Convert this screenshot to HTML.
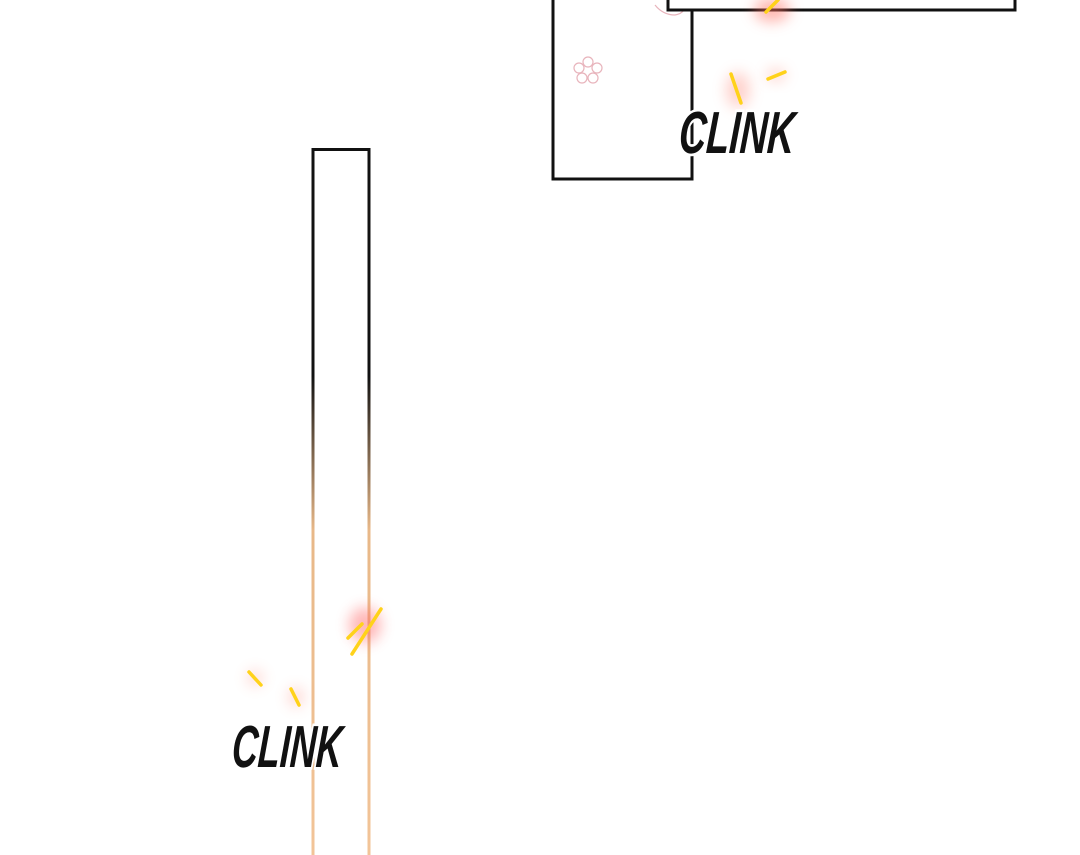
<!DOCTYPE html>
<html><head><style>html,body{margin:0;padding:0;background:#fff;}svg{display:block}</style></head>
<body>
<svg width="1080" height="855" viewBox="0 0 1080 855" xmlns="http://www.w3.org/2000/svg">
<defs>
<linearGradient id="g" x1="0" y1="0" x2="0" y2="855" gradientUnits="userSpaceOnUse">
<stop offset="0.44" stop-color="#111"/>
<stop offset="0.62" stop-color="#e8b888"/>
<stop offset="1" stop-color="#f2c498"/>
</linearGradient>
<filter id="b" x="-1" y="-1" width="3" height="3"><feGaussianBlur stdDeviation="7"/></filter>
</defs>
<rect x="0" y="0" width="1080" height="855" fill="#fff"/>
<rect x="553" y="-10" width="139" height="189" fill="#fff" stroke="#111" stroke-width="3"/>
<g fill="none" stroke="#e8b4bc" stroke-width="1.2">
<circle cx="588" cy="62" r="5"/><circle cx="597" cy="68" r="5"/><circle cx="593" cy="78" r="5"/><circle cx="582" cy="78" r="5"/><circle cx="579" cy="68" r="5"/>
<path d="M655 5 q8 10 20 10 q12 -2 10 -14"/>
</g>
<rect x="668" y="-10" width="347" height="20" fill="#fff" stroke="#111" stroke-width="3"/>
<ellipse cx="772" cy="10" rx="18" ry="12" fill="#ff7060" opacity="0.5" filter="url(#b)"/>
<ellipse cx="738" cy="90" rx="12" ry="18" fill="#ff8070" opacity="0.35" filter="url(#b)"/>
<ellipse cx="776" cy="75" rx="10" ry="6" fill="#ff8070" opacity="0.35" filter="url(#b)"/>
<g stroke="#ffd21a" stroke-width="3.5" stroke-linecap="round">
<line x1="766" y1="12" x2="778" y2="0"/>
<line x1="731" y1="74" x2="741" y2="103"/>
<line x1="768" y1="79" x2="785" y2="72"/>
</g>
<line x1="313" y1="149.5" x2="369" y2="149.5" stroke="#111" stroke-width="3"/>
<line x1="313" y1="148" x2="313" y2="855" stroke="url(#g)" stroke-width="3"/>
<line x1="369" y1="148" x2="369" y2="855" stroke="url(#g)" stroke-width="3"/>
<ellipse cx="365" cy="625" rx="16" ry="18" fill="#ff6060" opacity="0.45" filter="url(#b)"/>
<ellipse cx="255" cy="678" rx="8" ry="8" fill="#ff8070" opacity="0.3" filter="url(#b)"/>
<ellipse cx="296" cy="697" rx="8" ry="10" fill="#ff8070" opacity="0.3" filter="url(#b)"/>
<g stroke="#ffd21a" stroke-width="3.5" stroke-linecap="round">
<line x1="352" y1="654" x2="381" y2="609"/>
<line x1="348" y1="638" x2="362" y2="624"/>
<line x1="249" y1="672" x2="261" y2="685"/>
<line x1="291" y1="689" x2="299" y2="705"/>
</g>
<g font-family="Liberation Sans, sans-serif" font-style="italic" font-weight="bold" fill="#111" stroke="#fff" stroke-width="4" paint-order="stroke">
<text transform="translate(678,153) scale(0.86,1.35) skewX(-6)" font-size="44">CLINK</text>
<text transform="translate(231,767) scale(0.82,1.35) skewX(-6)" font-size="44">CLINK</text>
</g>
</svg>
</body></html>
